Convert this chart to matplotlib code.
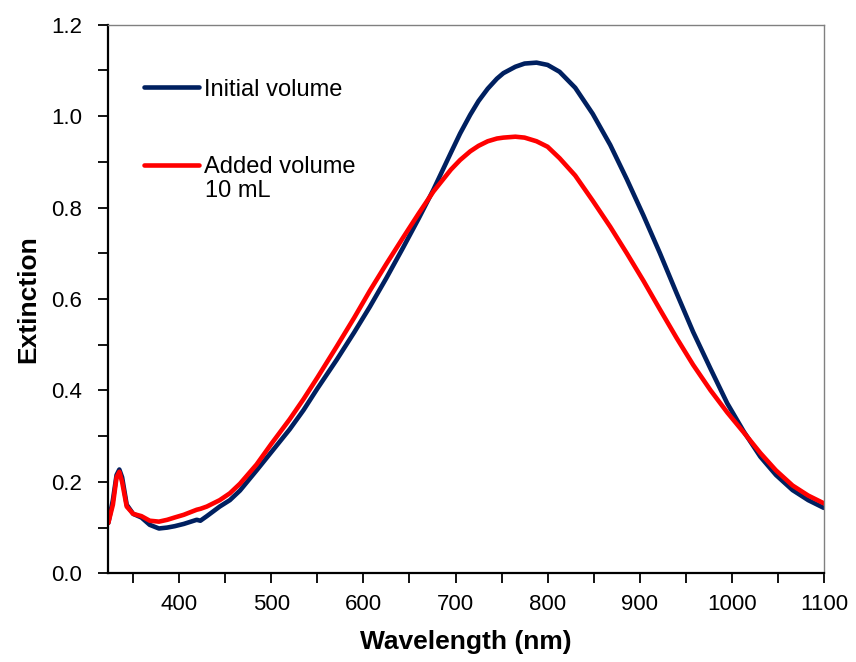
import matplotlib.pyplot as plt
from matplotlib.ticker import MultipleLocator

plt.rcParams['font.family'] = ['Liberation Sans', 'DejaVu Sans']

# Wavelength (nm)
wavelength = [323, 328, 332, 335, 338, 343, 350, 359, 368, 378, 387, 395, 405,
              419, 423, 430, 444, 455, 466, 484, 500, 520, 535, 550, 571, 590,
              607, 625, 643, 660, 676, 695, 705, 716, 725, 735, 745, 752, 765,
              775, 788, 800, 813, 830, 849, 868, 886, 904, 922, 940, 958, 977,
              995, 1013, 1031, 1048, 1066, 1083, 1100]

initial_volume = [0.110, 0.160, 0.215, 0.227, 0.210, 0.150, 0.130, 0.122,
                  0.106, 0.098, 0.100, 0.103, 0.108, 0.117, 0.115, 0.125,
                  0.146, 0.160, 0.181, 0.225, 0.265, 0.315, 0.357, 0.404,
                  0.467, 0.527, 0.583, 0.646, 0.712, 0.776, 0.839, 0.920,
                  0.962, 1.003, 1.033, 1.060, 1.082, 1.094, 1.108, 1.115,
                  1.117, 1.112, 1.097, 1.062, 1.005, 0.937, 0.862, 0.783,
                  0.700, 0.613, 0.528, 0.447, 0.372, 0.310, 0.255, 0.215,
                  0.182, 0.160, 0.143]

added_volume = [0.110, 0.150, 0.210, 0.222, 0.200, 0.146, 0.130, 0.125,
                0.115, 0.113, 0.117, 0.122, 0.128, 0.139, 0.141, 0.146,
                0.160, 0.175, 0.196, 0.238, 0.283, 0.337, 0.381, 0.428,
                0.496, 0.559, 0.618, 0.677, 0.734, 0.787, 0.835, 0.883,
                0.904, 0.923, 0.935, 0.945, 0.951, 0.953, 0.955, 0.953,
                0.945, 0.933, 0.908, 0.870, 0.815, 0.758, 0.700, 0.640,
                0.577, 0.515, 0.456, 0.400, 0.352, 0.308, 0.263, 0.225,
                0.192, 0.170, 0.153]

fig = plt.figure(figsize=(8.56, 6.62), dpi=100)
ax = fig.add_axes([0.1265, 0.134, 0.836, 0.8287])

ax.plot(wavelength, initial_volume, color='#002060', lw=3.3,
        solid_capstyle='round', solid_joinstyle='round', label='Initial volume')
ax.plot(wavelength, added_volume, color='#FF0000', lw=3.3,
        solid_capstyle='round', solid_joinstyle='round', label='Added volume')

ax.set_xlim(323, 1100)
ax.set_ylim(0, 1.2)
ax.xaxis.set_major_locator(MultipleLocator(100))
ax.xaxis.set_minor_locator(MultipleLocator(50))
ax.yaxis.set_major_locator(MultipleLocator(0.2))
ax.yaxis.set_minor_locator(MultipleLocator(0.1))
ax.yaxis.set_major_formatter(plt.FormatStrFormatter('%.1f'))

ax.tick_params(which='both', direction='out', length=7, width=1.3,
               labelsize=16, colors='black')
ax.tick_params(axis='x', pad=8)
ax.tick_params(axis='y', pad=12)

for side in ['left', 'bottom']:
    ax.spines[side].set_linewidth(1.6)
    ax.spines[side].set_color('black')
for side in ['top', 'right']:
    ax.spines[side].set_linewidth(1.0)
    ax.spines[side].set_color('#808080')

ax.set_xlabel('Wavelength (nm)', fontsize=19, fontweight='bold', labelpad=11)
ax.set_ylabel('Extinction', fontsize=19, fontweight='bold', labelpad=8)

leg = ax.legend(loc='upper left', bbox_to_anchor=(0.037, 0.919), frameon=False,
                fontsize=17, handlelength=2.33, handletextpad=0.21,
                labelspacing=2.35, borderaxespad=0)
ax.text(0.135, 0.697, '10 mL', transform=ax.transAxes, fontsize=17,
        va='center', ha='left')

fig.savefig('out.png', dpi=100)
